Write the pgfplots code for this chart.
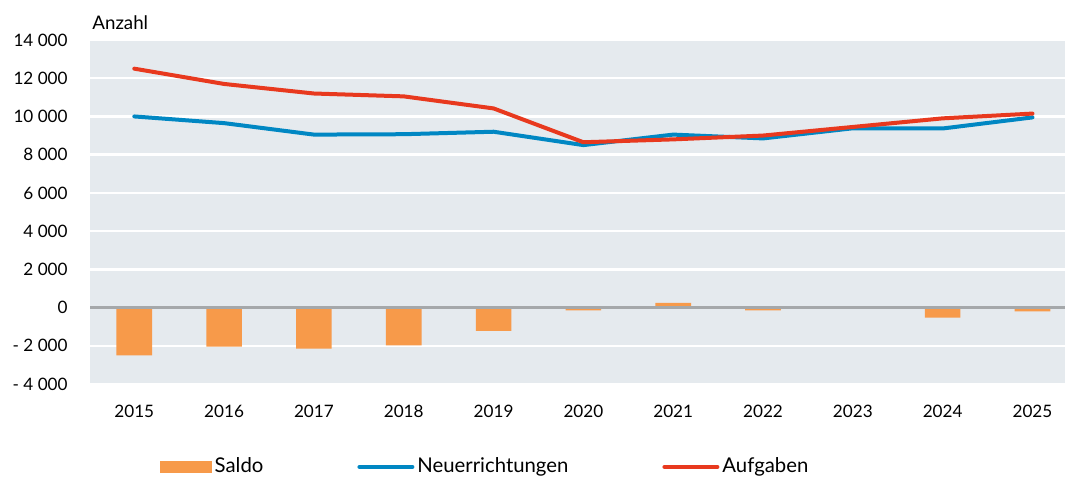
\documentclass[border=0pt]{standalone}
\usepackage{fontspec}
\setmainfont{Lato}
\usepackage{pgfplots}
\pgfplotsset{compat=1.18}
\definecolor{bgc}{RGB}{229,234,238}
\definecolor{saldoc}{RGB}{247,154,74}
\definecolor{neuc}{RGB}{0,135,195}
\definecolor{aufc}{RGB}{232,57,30}
\definecolor{zeroc}{RGB}{165,168,170}
\newcommand{\fs}{\fontsize{8.6}{10}\selectfont}
\newcommand{\fl}{\fontsize{10.2}{12}\selectfont}
\begin{document}
\begin{tikzpicture}
\useasboundingbox (0,0) rectangle (532.5bp,240bp);
\begin{axis}[
  at={(45bp,48bp)}, anchor=south west,
  width=487.5bp, height=172bp, scale only axis,
  xmin=-0.493, xmax=10.362,
  ymin=-4000, ymax=14000,
  scaled y ticks=false,
  axis line style={draw=none},
  major tick length=0pt,
  axis background/.style={fill=bgc},
  ymajorgrids, grid style={white, line width=1.2bp},
  xtick={0,...,10},
  xticklabels={2015,2016,2017,2018,2019,2020,2021,2022,2023,2024,2025},
  ytick={-4000,-2000,0,2000,4000,6000,8000,10000,12000,14000},
  yticklabels={- 4 000,- 2 000,0,2 000,4 000,6 000,8 000,10 000,12 000,14 000},
  tick label style={font=\fs, inner sep=0pt},
  xticklabel style={anchor=north, yshift=-10.5bp},
  yticklabel style={anchor=east, xshift=-11bp},
  legend columns=3,
  legend style={at={(0.4057,-0.241)}, anchor=center, draw=none, fill=none,
    font=\fl, nodes={inner sep=1.5bp},
    /tikz/every even column/.append style={column sep=45.5bp}},
]
\addplot[ybar, bar width=17.8bp, bar shift=0pt, fill=saldoc, draw=none,
  legend image code/.code={\fill[saldoc] (0bp,-3bp) rectangle (26bp,3bp);}]
  coordinates {(0,-2500) (1,-2050) (2,-2150) (3,-1980) (4,-1220) (5,-150) (6,250) (7,-150) (8,-60) (9,-530) (10,-200)};
\addlegendentry{Saldo}
\draw[zeroc, line width=1.5bp] (axis cs:-0.493,0) -- (axis cs:10.362,0);
\addplot[neuc, line width=2bp, line join=round, line cap=round,
  legend image code/.code={\draw[neuc, line width=2bp, line cap=round] (0bp,0) -- (26.5bp,0);}]
  coordinates {(0,10000) (1,9650) (2,9050) (3,9070) (4,9200) (5,8500) (6,9050) (7,8850) (8,9380) (9,9370) (10,9950)};
\addlegendentry{Neuerrichtungen}
\addplot[aufc, line width=2bp, line join=round, line cap=round,
  legend image code/.code={\draw[aufc, line width=2bp, line cap=round] (0bp,0) -- (26.5bp,0);}]
  coordinates {(0,12500) (1,11700) (2,11200) (3,11050) (4,10420) (5,8650) (6,8800) (7,9000) (8,9450) (9,9900) (10,10150)};
\addlegendentry{Aufgaben}
\end{axis}
\node[anchor=base west, font=\fontsize{9.4}{11}\selectfont, inner sep=0pt] at (46bp,225bp) {Anzahl};
\end{tikzpicture}
\end{document}
